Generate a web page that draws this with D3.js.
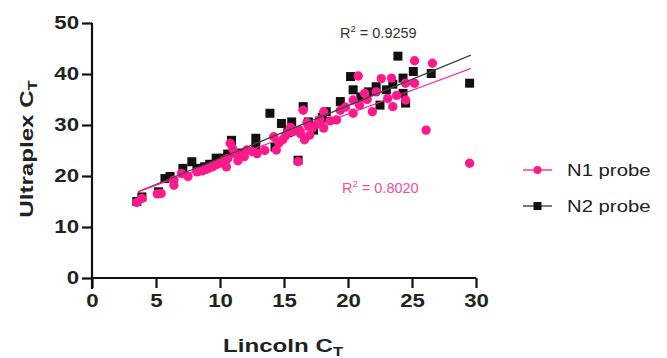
<!DOCTYPE html>
<html>
<head>
<meta charset="utf-8">
<script src="https://cdn.jsdelivr.net/npm/d3@7"></script>
<style>
  body { margin: 0; background: #fff; }
  svg { font-family: "Liberation Sans", Arial, sans-serif; }
</style>
</head>
<body>
<div id="chart"></div>
<script>
// N1 probe (pink circles)
var n1X = [3.5, 3.9, 5.1, 5.4, 6.4, 6.4, 7, 7.5, 8.2, 8.6, 8.9, 9.1, 9.4, 9.7, 10, 10.3, 10.5, 10.6, 10.8, 11,
           11.2, 11.4, 11.6, 11.9, 12.1, 12.5, 12.9, 13.5, 14.2, 14.4, 14.6, 14.9, 15.1, 15.3, 15.5, 15.7, 16.1, 16.2, 16.3, 16.5,
           16.6, 16.8, 16.9, 17, 17.2, 17.6, 17.8, 18.1, 18.1, 18.6, 19.1, 19.4, 19.8, 20.4, 20.4, 20.8, 20.9, 21.3, 21.5, 21.9,
           22.2, 22.6, 23.1, 23.4, 23.5, 23.8, 24.5, 24.5, 25.2, 25.2, 26.1, 26.6, 29.5];
var n1Y = [14.8, 15.6, 16.5, 16.6, 18.2, 19.2, 20.5, 19.9, 20.8, 21, 21.3, 21.5, 21.8, 22.2, 22.5, 23.1, 21.8, 23.4, 26.4, 25.3,
           24.4, 23, 24.1, 23.8, 25.1, 24.8, 24.4, 25, 27.7, 25.1, 26.5, 27.1, 27.8, 28.5, 29.5, 28.7, 22.8, 29, 28.3, 32.9,
           27.1, 30.5, 29.8, 28, 29.4, 30.2, 31, 29.4, 32.6, 30.8, 31, 32.9, 33.5, 34.9, 32.3, 39.6, 33.9, 36.2, 35, 32.6,
           36.5, 39.1, 35.2, 39.2, 33.6, 35.8, 38.2, 34.9, 38.2, 42.6, 29, 42.1, 22.5];

// N2 probe (black squares)
var n2X = [3.5, 3.9, 5.2, 5.7, 6.1, 7.1, 7.8, 8.2, 8.8, 9.2, 9.7, 10.3, 10.6, 10.9, 11.5, 12.8, 12.8, 13.9, 14.3, 14.8,
           15.3, 15.6, 16.1, 16.5, 16.9, 17.3, 17.8, 18, 18.3, 19.4, 20.2, 20.4, 21, 21.6, 22.2, 22.5, 23, 23.5, 23.9, 24.3,
           24.3, 24.5, 25.1, 26.5, 29.5];
var n2Y = [15, 15.9, 16.9, 19.5, 19.9, 21.5, 22.8, 21.5, 21.8, 22.3, 23.5, 23.5, 24.3, 27, 24.5, 27.4, 25.7, 32.3, 25.7, 30.3,
           28.5, 30.6, 23.1, 33.6, 30.6, 29, 30.8, 31.5, 32.6, 34.6, 39.5, 36.9, 35.5, 36.5, 37.5, 33.9, 36.9, 38, 43.5, 39.2,
           36.2, 34.3, 40.5, 40.1, 38.2];

// linear fits [intercept, slope], x range, R2
var fitN1 = [13.55, 0.93];
var fitN2 = [13.2, 1.03];
var fitRange = [3.6, 29.6];
var r2Labels = ["0.9259", "0.8020"];

var seriesNames = ["N1 probe", "N2 probe"];
var xTicks = [0, 5, 10, 15, 20, 25, 30];
var yTicks = [0, 10, 20, 30, 40, 50];

var pink = "#ff1a8c";
var wide = 1.27; // the original font runs wider than Liberation Sans
var width = 667, height = 358;

var svg = d3.select("#chart").append("svg")
    .attr("width", width)
    .attr("height", height);

var x = d3.scaleLinear().domain([0, 30]).range([92, 476]);
var y = d3.scaleLinear().domain([0, 50]).range([278, 23]);

// axes
var xAxis = svg.append("g")
    .attr("transform", "translate(0," + y(0) + ")")
    .call(d3.axisBottom(x).tickValues(xTicks).tickSize(10).tickPadding(7).tickFormat(d3.format("d")));
var yAxis = svg.append("g")
    .attr("transform", "translate(" + x(0) + ",0)")
    .call(d3.axisLeft(y).tickValues(yTicks).tickSize(10).tickPadding(3).tickFormat(d3.format("d")));

[xAxis, yAxis].forEach(function (a) {
    a.select(".domain").attr("stroke", "#111").attr("stroke-width", 2.2);
    a.selectAll(".tick line").attr("stroke", "#111").attr("stroke-width", 2.2);
    a.selectAll(".tick text")
        .attr("fill", "#222")
        .attr("font-size", "17.5px")
        .attr("font-weight", "bold")
        .attr("transform", "scale(" + wide + ",1)");
});
yAxis.selectAll(".tick text").attr("x", -13 / wide);
// y axis extends a bit below x axis
yAxis.select(".domain").attr("d", "M0," + y(50) + "V" + (y(0) + 11));
xAxis.select(".domain").attr("d", "M" + x(0) + ",0H" + x(30));

// axis titles
var xt = svg.append("text")
    .attr("transform", "translate(283,352) scale(" + wide + ",1)")
    .attr("text-anchor", "middle")
    .attr("font-size", "19px")
    .attr("font-weight", "bold")
    .attr("fill", "#222");
xt.append("tspan").text("Lincoln C");
xt.append("tspan").attr("font-size", "13px").attr("dy", 4).text("T");

var yt = svg.append("text")
    .attr("transform", "translate(33,149) rotate(-90) scale(" + wide + ",1)")
    .attr("text-anchor", "middle")
    .attr("font-size", "19px")
    .attr("font-weight", "bold")
    .attr("fill", "#222");
yt.append("tspan").text("Ultraplex C");
yt.append("tspan").attr("font-size", "13px").attr("dy", 4).text("T");

// fit lines
function fitLine(f, color) {
    svg.append("line")
        .attr("x1", x(fitRange[0]))
        .attr("y1", y(f[0] + f[1] * fitRange[0]))
        .attr("x2", x(fitRange[1]))
        .attr("y2", y(f[0] + f[1] * fitRange[1]))
        .attr("stroke", color)
        .attr("stroke-width", 1.3);
}

// N2 squares
svg.append("g").selectAll("rect")
    .data(n2X.map(function (d, i) { return [d, n2Y[i]]; }))
    .enter().append("rect")
    .attr("x", function (d) { return x(d[0]) - 4.5; })
    .attr("y", function (d) { return y(d[1]) - 4.5; })
    .attr("width", 9)
    .attr("height", 9)
    .attr("fill", "#111");

// N1 circles
svg.append("g").selectAll("circle")
    .data(n1X.map(function (d, i) { return [d, n1Y[i]]; }))
    .enter().append("circle")
    .attr("cx", function (d) { return x(d[0]); })
    .attr("cy", function (d) { return y(d[1]); })
    .attr("r", 4.7)
    .attr("fill", pink);

fitLine(fitN2, "#444");
fitLine(fitN1, pink);

// R2 labels
function r2Text(px, py, val, color) {
    var t = svg.append("text")
        .attr("x", px).attr("y", py)
        .attr("font-size", "14.5px")
        .attr("fill", color);
    t.append("tspan").text("R");
    t.append("tspan").attr("font-size", "9.5px").attr("dy", -6).text("2");
    t.append("tspan").attr("dy", 6).text(" = " + val);
}
r2Text(340, 38, r2Labels[0], "#333");
r2Text(342, 193, r2Labels[1], "#f0509f");

// legend
var legend = svg.append("g");
seriesNames.forEach(function (name, i) {
    var ly = 170 + i * 36;
    var col = i === 0 ? pink : "#111";
    legend.append("line")
        .attr("x1", 523).attr("x2", 552)
        .attr("y1", ly).attr("y2", ly)
        .attr("stroke", i === 0 ? pink : "#333")
        .attr("stroke-width", 1.3);
    if (i === 0) {
        legend.append("circle").attr("cx", 537.5).attr("cy", ly).attr("r", 4).attr("fill", col);
    } else {
        legend.append("rect").attr("x", 533.5).attr("y", ly - 4).attr("width", 8).attr("height", 8).attr("fill", col);
    }
    legend.append("text")
        .attr("transform", "translate(567," + (ly + 6) + ") scale(" + wide + ",1)")
        .attr("font-size", "16px")
        .attr("fill", "#222")
        .text(name);
});
</script>
</body>
</html>
